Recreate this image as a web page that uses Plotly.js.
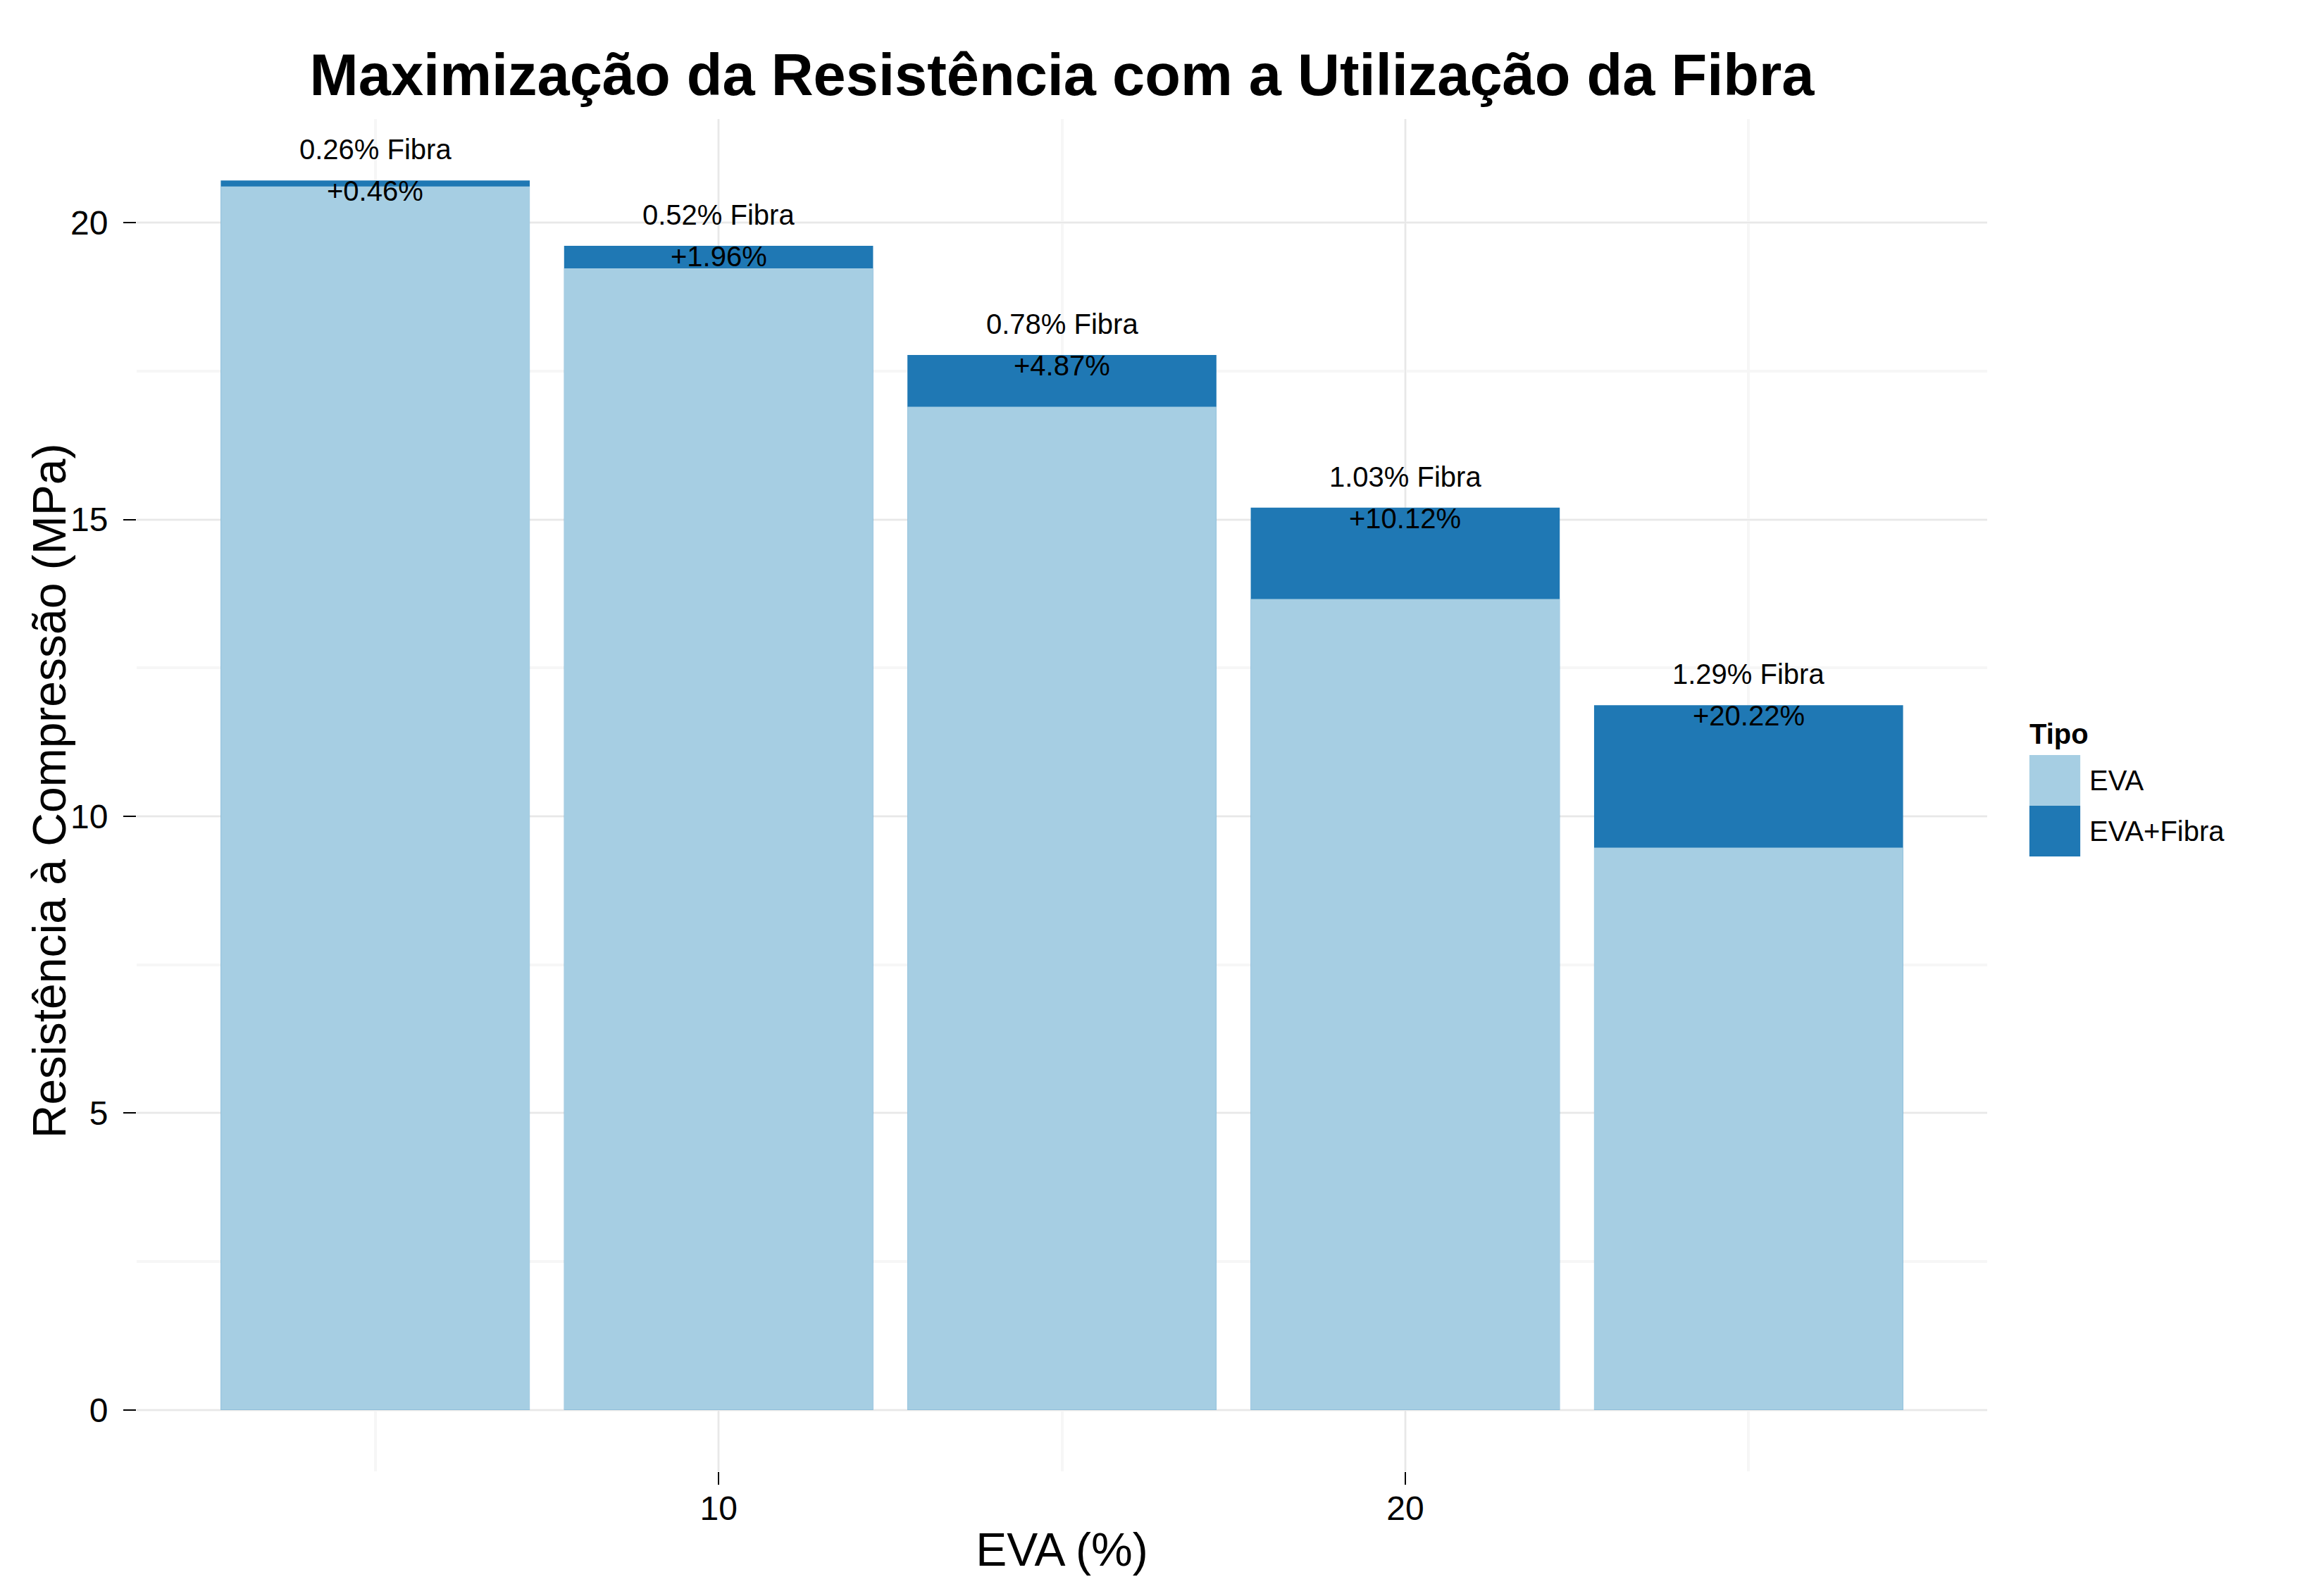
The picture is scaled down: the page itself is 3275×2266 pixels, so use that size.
<!DOCTYPE html>
<html>
<head>
<meta charset="utf-8">
<script src="https://cdn.plot.ly/plotly-3.0.1.min.js"></script>
<style>html,body{margin:0;padding:0;background:#fff;}#chart{width:3275px;height:2266px;}</style>
</head>
<body>
<div id="chart"></div>
<script>
// ---- data ----
const evaPct = [5, 10, 15, 20, 25];                       // EVA (%)
const resistEVA = [20.61, 19.23, 16.90, 13.66, 9.47];     // MPa, EVA only
const resistEVAFibra = [20.71, 19.61, 17.77, 15.20, 11.87]; // MPa, EVA + fibre
const fibraPct = [0.26, 0.52, 0.78, 1.03, 1.29];          // fibre content label
const ganhoPct = [0.46, 1.96, 4.87, 10.12, 20.22];        // gain label
const seriesNames = ['EVA', 'EVA+Fibra'];
const seriesColors = ['#A6CEE3', '#1F78B4'];
const xTickVals = [10, 20];
const yTickVals = [0, 5, 10, 15, 20];

const FONT = '"Liberation Sans", Arial, Helvetica, sans-serif';

const traces = [
  {type: 'bar', name: seriesNames[1], x: evaPct, y: resistEVAFibra, width: 4.5,
   marker: {color: seriesColors[1], line: {width: 0}}, showlegend: false, hoverinfo: 'x+y'},
  {type: 'bar', name: seriesNames[0], x: evaPct, y: resistEVA, width: 4.5,
   marker: {color: seriesColors[0], line: {width: 0}}, showlegend: false, hoverinfo: 'x+y'}
];

const annotations = [];
for (let i = 0; i < evaPct.length; i++) {
  annotations.push({x: evaPct[i], y: resistEVAFibra[i], xref: 'x', yref: 'y',
    text: fibraPct[i].toFixed(2) + '% Fibra', showarrow: false,
    yanchor: 'bottom', yshift: 20, font: {family: FONT, size: 40, color: '#000'}});
  annotations.push({x: evaPct[i], y: resistEVAFibra[i], xref: 'x', yref: 'y',
    text: '+' + ganhoPct[i].toFixed(2) + '%', showarrow: false,
    yanchor: 'top', yshift: 9, font: {family: FONT, size: 40, color: '#000'}});
}

// y-axis title (placed as rotated text to match the reference position)
annotations.push({xref: 'paper', yref: 'paper', x: -0.0472, y: 0.503, xanchor: 'center', yanchor: 'middle',
  textangle: -90, showarrow: false, text: 'Resistência à Compressão (MPa)',
  font: {family: FONT, size: 66, color: '#000'}});

// ---- custom legend (large keys as in the reference) ----
const legX0 = 1.0228, legX1 = 1.0503, legLabelX = 1.0544;
const legKeyTop = 0.5297, legKeyH = 0.0375;
const shapes = [];
annotations.push({xref: 'paper', yref: 'paper', x: legX0, y: legKeyTop, xanchor: 'left',
  yanchor: 'bottom', yshift: 6, xshift: -2, showarrow: false, text: 'Tipo',
  font: {family: FONT, size: 40, color: '#000', weight: 700}});
for (let k = 0; k < seriesNames.length; k++) {
  const top = legKeyTop - k * legKeyH, bot = top - legKeyH;
  shapes.push({type: 'rect', xref: 'paper', yref: 'paper', x0: legX0, x1: legX1, y0: bot, y1: top,
    fillcolor: seriesColors[k], line: {width: 0}, layer: 'above'});
  annotations.push({xref: 'paper', yref: 'paper', x: legLabelX, y: (top + bot) / 2,
    xanchor: 'left', yanchor: 'middle', showarrow: false, text: seriesNames[k],
    font: {family: FONT, size: 40, color: '#000'}});
}

const layout = {
  width: 3275, height: 2266,
  paper_bgcolor: '#fff', plot_bgcolor: '#fff',
  margin: {l: 194, r: 454, t: 169, b: 177, autoexpand: false},
  barmode: 'overlay',
  showlegend: false,
  font: {family: FONT, color: '#000'},
  title: {text: 'Maximização da Resistência com a Utilização da Fibra',
    x: 0.5, xref: 'paper', xanchor: 'center', y: 1 - 106 / 2266, yref: 'container', yanchor: 'middle',
    font: {family: FONT, size: 83, color: '#000', weight: 700}},
  xaxis: {
    range: [1.525, 28.475], tickmode: 'array', tickvals: xTickVals, ticktext: xTickVals.map(String),
    ticks: 'outside', ticklen: 18, tickwidth: 2, tickcolor: '#000', ticklabelstandoff: -8,
    tickfont: {family: FONT, size: 48, color: '#000'},
    showgrid: true, gridcolor: '#e8e8e8', gridwidth: 2, zeroline: false, showline: false,
    minor: {tick0: 0, dtick: 5, showgrid: true, gridcolor: '#f6f6f6', gridwidth: 4, ticks: ''},
    title: {text: 'EVA (%)', font: {family: FONT, size: 66, color: '#000'}, standoff: 10}
  },
  yaxis: {
    range: [-1.0355, 21.7455], tickmode: 'array', tickvals: yTickVals, ticktext: yTickVals.map(String),
    ticks: 'outside', ticklen: 18, tickwidth: 2, tickcolor: '#000', ticklabelstandoff: 12,
    tickfont: {family: FONT, size: 48, color: '#000'},
    showgrid: true, gridcolor: '#e8e8e8', gridwidth: 2, zeroline: false, showline: false,
    minor: {tick0: 0, dtick: 2.5, showgrid: true, gridcolor: '#f6f6f6', gridwidth: 4, ticks: ''}
  },
  annotations: annotations,
  shapes: shapes
};

Plotly.newPlot('chart', traces, layout, {displayModeBar: false, staticPlot: true});
</script>
</body>
</html>
